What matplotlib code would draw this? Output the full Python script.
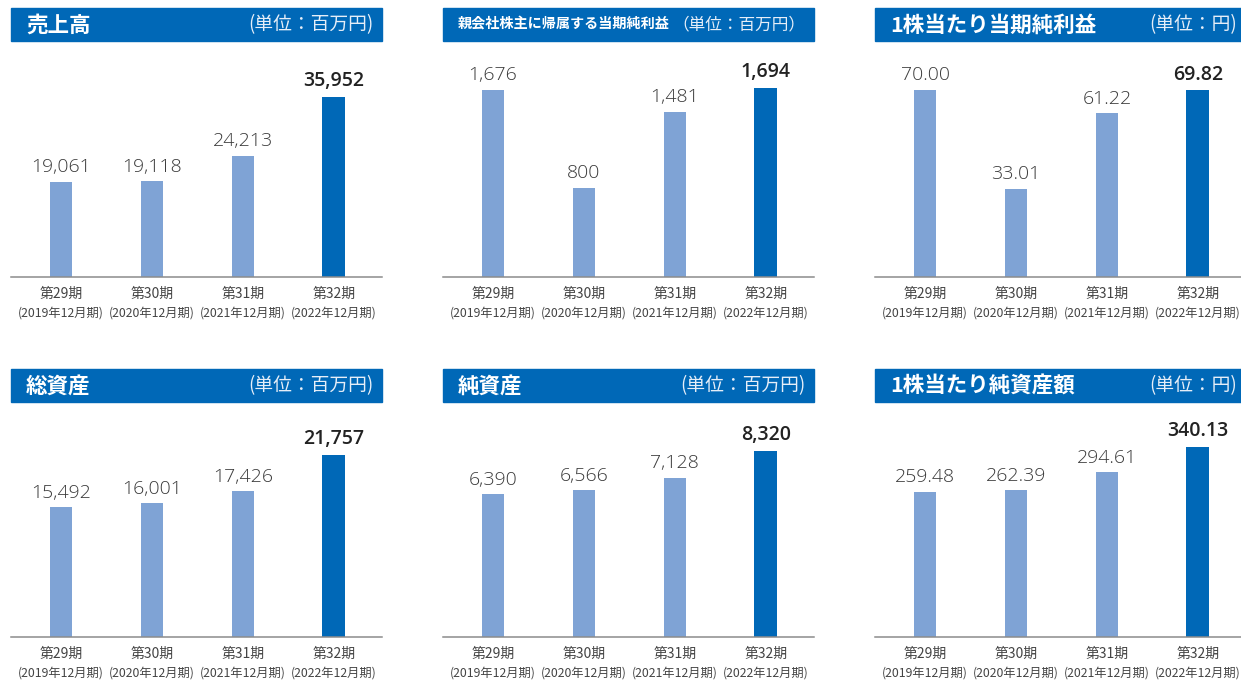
import matplotlib
matplotlib.use("Agg")
import matplotlib.pyplot as plt
from matplotlib.patches import Rectangle

plt.rcParams['font.family'] = ['Noto Sans CJK JP', 'DejaVu Sans']

# data
periods = ['第29期', '第30期', '第31期', '第32期']
fiscal = ['(2019年12月期)', '(2020年12月期)', '(2021年12月期)', '(2022年12月期)']

titles = ['売上高', '親会社株主に帰属する当期純利益', '1株当たり当期純利益',
          '総資産', '純資産', '1株当たり純資産額']
units = ['(単位：百万円)', '（単位：百万円）', '(単位：円)',
         '(単位：百万円)', '(単位：百万円)', '(単位：円)']

sales = [19061, 19118, 24213, 35952]
net_income = [1676, 800, 1481, 1694]
eps = [70.00, 33.01, 61.22, 69.82]
total_assets = [15492, 16001, 17426, 21757]
net_assets = [6390, 6566, 7128, 8320]
bps = [259.48, 262.39, 294.61, 340.13]

series = [sales, net_income, eps, total_assets, net_assets, bps]
decimals = [0, 0, 2, 0, 0, 2]

# pixel height of the tallest bar in each panel (each panel has its own scale)
max_bar_px = [180, 189, 187, 182, 186, 190]

HEADER = '#0068b7'
LIGHT = '#7fa3d5'
DARK = '#0068b7'

W, H = 1241, 680
fig = plt.figure(figsize=(W / 100, H / 100), dpi=100)


def px_box(x0, y0, x1, y1):
    # pixel box (top-left origin) -> figure fraction
    return [x0 / W, 1 - y1 / H, (x1 - x0) / W, (y1 - y0) / H]


for i, (title, unit, vals, dec) in enumerate(zip(titles, units, series, decimals)):
    row, col = divmod(i, 3)
    left = 11 + 432 * col
    right = left + 371
    htop = 8 + 361 * row
    base = 277 + 360 * row

    # header band
    fig.patches.append(Rectangle((left / W, 1 - (htop + 33) / H), 371 / W, 33 / H,
                                 transform=fig.transFigure, color=HEADER, zorder=0))
    long_title = len(title) > 12
    tsize = 10.2 if long_title else 15.5
    usize = 12 if long_title else 13.5
    fig.text((left + 15) / W, 1 - (htop + 17) / H, title, color='white',
             fontsize=tsize, fontweight='bold', va='center', ha='left')
    fig.text((right - 9) / W, 1 - (htop + 17) / H, unit, color='#e6eef8',
             fontsize=usize, va='center', ha='right')

    ax = fig.add_axes(px_box(left, base - 222, right, base))
    x = range(len(vals))
    colors = [LIGHT] * (len(vals) - 1) + [DARK]
    ax.bar(x, vals, width=0.25, color=colors, zorder=2)
    ax.set_xlim(-0.55, 3.53)
    ax.set_ylim(0, max(vals) * 222 / max_bar_px[i])

    for xi, v in zip(x, vals):
        last = xi == len(vals) - 1
        ax.annotate(f'{v:,.{dec}f}', (xi, v), xytext=(0, 4), textcoords='offset points',
                    ha='center', va='bottom', fontsize=14,
                    family=['Open Sans', 'DejaVu Sans'],
                    fontweight='semibold' if last else 'light',
                    color='#222222' if last else '#3a3a3a')
        ax.annotate(periods[xi], (xi, 0), xycoords=('data', 'axes fraction'),
                    xytext=(0, -12), textcoords='offset points',
                    ha='center', va='center', fontsize=10, color='#444444')
        ax.annotate(fiscal[xi], (xi, 0), xycoords=('data', 'axes fraction'),
                    xytext=(0, -26), textcoords='offset points',
                    ha='center', va='center', fontsize=8.8, color='#444444')

    for s in ['top', 'right', 'left']:
        ax.spines[s].set_visible(False)
    ax.spines['bottom'].set_color('#8c8c8c')
    ax.spines['bottom'].set_linewidth(1.1)
    ax.set_xticks([])
    ax.set_yticks([])
    ax.patch.set_alpha(0)

fig.savefig('out.png', dpi=100)
